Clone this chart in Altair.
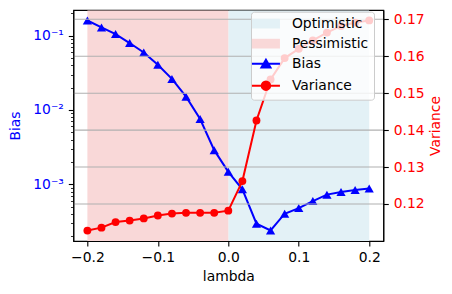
import altair as alt
import pandas as pd

# ---- data ----
lam = [-0.2, -0.18, -0.16, -0.14, -0.12, -0.1, -0.08, -0.06, -0.04, -0.02, 0.0,
       0.02, 0.04, 0.06, 0.08, 0.1, 0.12, 0.14, 0.16, 0.18, 0.2]
bias = [0.16, 0.129, 0.105, 0.0796, 0.0594, 0.0406, 0.0262, 0.0151, 0.00755, 0.00288, 0.00147,
        0.000856, 0.000295, 0.000239, 0.000402, 0.000479, 0.000594, 0.000726, 0.000787, 0.000837, 0.000875]
variance = [0.1128, 0.1136, 0.1151, 0.1155, 0.1161, 0.1169, 0.1174, 0.1176, 0.1176, 0.1176, 0.1182,
            0.1262, 0.1426, 0.1537, 0.1595, 0.1620, 0.1643, 0.1664, 0.1682, 0.1691, 0.1697]
regions = ["Optimistic", "Pessimistic"]
region_start = [0.0, -0.2]
region_end = [0.2, 0.0]
x_ticks = [-0.2, -0.1, 0.0, 0.1, 0.2]
var_ticks = [0.12, 0.13, 0.14, 0.15, 0.16, 0.17]
bias_ticks = [2e-4, 3e-4, 4e-4, 5e-4, 6e-4, 7e-4, 8e-4, 9e-4,
              1e-3, 2e-3, 3e-3, 4e-3, 5e-3, 6e-3, 7e-3, 8e-3, 9e-3,
              1e-2, 2e-2, 3e-2, 4e-2, 5e-2, 6e-2, 7e-2, 8e-2, 9e-2,
              1e-1, 2e-1]
keys = ["Optimistic", "Pessimistic", "Bias", "Variance"]
key_colors = ["#e3f1f6", "#f9d8d8", "#0000ff", "#ff0000"]

W, H = 310, 231
FONT = "DejaVu Sans"
FS = 13.9

df_reg = pd.DataFrame({"key": regions, "start": region_start, "end": region_end})
df_b = pd.DataFrame({"lambda": lam, "value": bias, "key": "Bias"})
df_v = pd.DataFrame({"lambda": lam, "value": variance, "key": "Variance"})
df_g = pd.DataFrame({"g": var_ticks})

xscale = alt.Scale(domain=[-0.22, 0.22], nice=False, zero=False)
xaxis = alt.Axis(values=x_ticks, format=".1f", tickSize=5, labelPadding=5,
                 titlePadding=5, zindex=1, grid=False)
bias_scale = alt.Scale(type="log", domain=[1.726e-4, 0.2215], nice=False)
var_scale = alt.Scale(domain=[0.10998, 0.17252], nice=False, zero=False)

decade = "abs(log(datum.value)/LN10 - round(log(datum.value)/LN10)) < 0.001"
left_axis = alt.Axis(
    orient="left", values=bias_ticks, grid=False, zindex=1,
    labelExpr=("abs(datum.value-0.1)<1e-9 ? '10⁻¹' : abs(datum.value-0.01)<1e-10 ? '10⁻²' : "
               "abs(datum.value-0.001)<1e-11 ? '10⁻³' : ''"),
    labelOverlap=False, labelFlush=False, labelColor="#0000ff", titleColor="#0000ff",
    tickSize={"condition": {"test": decade, "value": 5}, "value": 2.8},
    tickWidth={"condition": {"test": decade, "value": 1.1}, "value": 0.8},
    labelPadding=5, titlePadding=10,
)
right_axis = alt.Axis(orient="right", values=var_ticks, format=".2f", grid=False, zindex=1,
                      labelColor="#ff0000", titleColor="#ff0000", tickSize=5,
                      labelPadding=5, titlePadding=4, titleAngle=270, titleBaseline="top")

rect_path = "M-1.556,-0.54H1.556V0.54H-1.556Z"
bias_path = "M-1.556,0H1.556M0,-0.43L0.5,0.43L-0.5,0.43Z"
var_path = "M-1.556,0H1.556M0.47,0A0.47,0.47,0,1,1,-0.47,0A0.47,0.47,0,1,1,0.47,0Z"

shape_expr = (f"datum.value === 'Bias' ? '{bias_path}' : datum.value === 'Variance' ? "
              f"'{var_path}' : '{rect_path}'")
col_expr = (f"datum.value === 'Optimistic' ? '{key_colors[0]}' : datum.value === 'Pessimistic' ? "
            f"'{key_colors[1]}' : datum.value === 'Bias' ? '{key_colors[2]}' : '{key_colors[3]}'")
sw_expr = "datum.value === 'Bias' || datum.value === 'Variance' ? 2 : 0"

legend = alt.Legend(
    title=None, orient="none", legendX=177.7, legendY=1.7, direction="vertical",
    fillColor="rgba(255,255,255,0.8)", strokeColor="#cccccc", cornerRadius=3,
    padding=5, rowPadding=5, symbolSize=324, symbolOffset=3, labelOffset=19,
    labelFont=FONT, labelFontSize=FS, labelColor="black",
    symbolType=alt.ExprRef(shape_expr),
    symbolFillColor=alt.ExprRef(col_expr),
    symbolStrokeColor=alt.ExprRef(col_expr),
    symbolStrokeWidth=alt.ExprRef(sw_expr),
    symbolOpacity=1,
)
color = alt.Color("key:N", scale=alt.Scale(domain=keys, range=key_colors), legend=legend)

rects = alt.Chart(df_reg).mark_rect().encode(
    x=alt.X("start:Q", scale=xscale, axis=xaxis, title="lambda"),
    x2="end:Q",
    y=alt.value(0.5), y2=alt.value(H),
    color=color,
)

bias_layer = alt.Chart(df_b).mark_line(
    strokeWidth=2,
    point=alt.OverlayMarkDef(shape="triangle-up", filled=True, size=85, opacity=1),
).encode(
    x=alt.X("lambda:Q", scale=xscale, axis=xaxis, title="lambda"),
    y=alt.Y("value:Q", scale=bias_scale, axis=left_axis, title="Bias"),
    color=color,
)

grid = alt.Chart(df_g).mark_rule(color="#b0b0b0", strokeWidth=1.1).encode(
    y=alt.Y("g:Q", scale=var_scale, axis=right_axis, title="Variance"),
)
var_line = alt.Chart(df_v).mark_line(
    strokeWidth=2,
    point=alt.OverlayMarkDef(shape="circle", filled=True, size=62, opacity=1),
).encode(
    x=alt.X("lambda:Q", scale=xscale, axis=xaxis, title="lambda"),
    y=alt.Y("value:Q", scale=var_scale, axis=right_axis, title="Variance"),
    color=color,
)

chart = alt.layer(rects, bias_layer, alt.layer(grid, var_line)).resolve_scale(
    y="independent"
).properties(
    width=W, height=H,
    autosize=alt.AutoSizeParams(type="none"),
    padding={"left": 65.3, "top": 2, "right": 60.5, "bottom": 43},
).configure_axis(
    labelFont=FONT, titleFont=FONT, labelFontSize=FS, titleFontSize=FS,
    titleFontWeight="normal", domainColor="black", tickColor="black",
    labelColor="black", titleColor="black", domainWidth=1.1, tickWidth=1.1,
).configure_view(stroke="black", strokeWidth=1.1)

chart.save("out.html", embed_options={"renderer": "svg", "actions": False})
